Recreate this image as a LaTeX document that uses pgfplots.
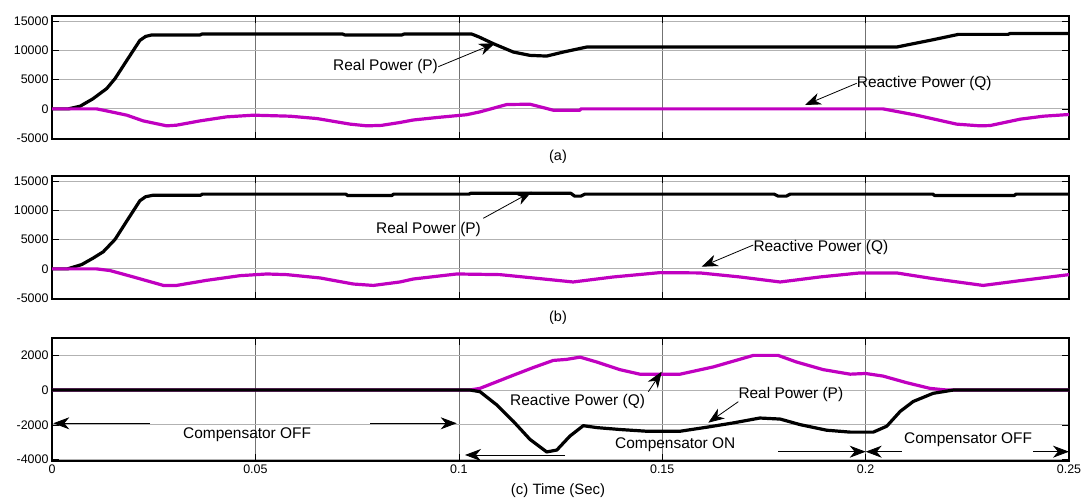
\documentclass[border=0pt]{standalone}
\usepackage{fontspec}
\setmainfont{Liberation Sans}
\usepackage{pgfplots}
\pgfplotsset{compat=1.18}
\usetikzlibrary{arrows.meta}
\definecolor{magq}{RGB}{192,0,192}
\pgfplotsset{
  panel/.style={
    scale only axis, width=1017bp, height=123bp, anchor=south west,
    xmin=0, xmax=0.25, xtick={0,0.05,0.1,0.15,0.2,0.25},
    grid=major, x grid style={black!55,line width=0.5bp}, y grid style={black!30,line width=0.8bp},
    tick align=inside, xtick pos=both, ytick pos=both, major tick length=7bp,
    axis line style={black, line width=1.2bp},
    tick style={black, line width=0.6bp},
    tick label style={font=\fontsize{12.5}{14}\selectfont},
    /pgf/number format/assume math mode=true,
    /pgf/number format/.cd, fixed, 1000 sep={}, precision=2, /pgfplots/.cd,
    scaled y ticks=false, scaled x ticks=false,
  },
  pline/.style={black, line width=3.2bp, line join=round},
  qline/.style={magq, line width=3.2bp, line join=round},
}
\tikzset{ann/.style={font=\fontsize{15.5}{17}\selectfont, inner sep=0pt, anchor=west},
  arr/.style={line width=0.8bp, -{Stealth[length=16bp,width=12bp,inset=5bp]}}}
\begin{document}
\begin{tikzpicture}[x=1bp,y=1bp]
\useasboundingbox (0,0) rectangle (1088,502);
% ---------- (a)
\begin{axis}[panel, at={(52bp,363bp)}, ymin=-5150, ymax=15900,
  ytick={-5000,0,5000,10000,15000}, xticklabels={}]
\addplot[pline] coordinates {(0,0)(0.004,0)(0.0069,460)(0.0100,1700)(0.01345,3480)(0.0155,5190)(0.0184,8310)(0.0216,11720)(0.0230,12400)(0.0245,12650)(0.0364,12650)(0.0368,12800)(0.0715,12800)(0.0720,12650)(0.0860,12650)(0.0865,12800)(0.1032,12800)(0.1050,12300)(0.1085,11160)(0.1134,9730)(0.1175,9160)(0.1216,9040)(0.1257,9730)(0.1314,10580)(0.2076,10580)(0.2166,11840)(0.2228,12750)(0.2350,12750)(0.2355,12900)(0.25,12900)};
\addplot[qline] coordinates {(0,0)(0.011,0)(0.0126,-220)(0.0184,-1075)(0.0224,-2050)(0.0282,-2900)(0.0306,-2790)(0.0364,-2050)(0.0429,-1365)(0.0495,-1075)(0.0585,-1250)(0.0651,-1650)(0.0733,-2610)(0.0774,-2900)(0.0810,-2820)(0.0855,-2330)(0.0888,-1900)(0.0950,-1450)(0.1019,-1000)(0.1052,-510)(0.1118,750)(0.1175,800)(0.1232,-220)(0.1298,-220)(0.1300,0)(0.2043,0)(0.2125,-1075)(0.2224,-2610)(0.2281,-2900)(0.2306,-2850)(0.2380,-1760)(0.2437,-1250)(0.25,-960)};
\end{axis}
% ---------- (b)
\begin{axis}[panel, at={(52bp,203bp)}, ymin=-5150, ymax=15900,
  ytick={-5000,0,5000,10000,15000}, xticklabels={}]
\addplot[pline] coordinates {(0,0)(0.0038,0)(0.0073,740)(0.0100,1800)(0.0126,2930)(0.0155,5050)(0.0184,8210)(0.0216,11660)(0.0230,12350)(0.0248,12600)(0.0365,12600)(0.0370,12800)(0.0722,12800)(0.0727,12550)(0.0835,12550)(0.0840,12800)(0.1025,12800)(0.1030,12950)(0.1275,12950)(0.1285,12450)(0.1300,12450)(0.1310,12800)(0.1775,12800)(0.1785,12450)(0.1805,12450)(0.1815,12800)(0.2165,12800)(0.2170,12550)(0.2365,12550)(0.2370,12800)(0.25,12800)};
\addplot[qline] coordinates {(0,0)(0.011,0)(0.0143,-290)(0.0200,-1380)(0.0274,-2830)(0.0306,-2830)(0.0380,-1960)(0.0462,-1160)(0.0528,-870)(0.0577,-980)(0.0659,-1550)(0.0741,-2590)(0.0790,-2830)(0.0855,-2240)(0.0888,-1730)(0.0995,-870)(0.1101,-980)(0.1200,-1670)(0.1281,-2240)(0.1380,-1380)(0.1494,-640)(0.1593,-690)(0.1691,-1380)(0.1790,-2240)(0.1888,-1380)(0.1986,-690)(0.2076,-690)(0.2166,-1670)(0.2289,-2830)(0.2380,-2010)(0.25,-980)};
\end{axis}
% ---------- (c)
\begin{axis}[panel, at={(52bp,41bp)}, ymin=-4080, ymax=2990,
  ytick={-4000,-2000,0,2000}]
\addplot[qline] coordinates {(0,0)(0.1027,0)(0.1052,95)(0.1134,850)(0.1183,1290)(0.1232,1700)(0.1265,1760)(0.1298,1890)(0.1339,1610)(0.1396,1170)(0.1445,910)(0.1544,910)(0.1626,1330)(0.1724,1990)(0.1785,1990)(0.1830,1610)(0.1896,1170)(0.1962,910)(0.2000,950)(0.2043,800)(0.2101,420)(0.2158,95)(0.2199,0)(0.25,0)};
\addplot[pline] coordinates {(0,0)(0.1027,0)(0.1052,-95)(0.1093,-850)(0.1134,-1800)(0.1175,-2840)(0.1216,-3560)(0.1241,-3450)(0.1273,-2650)(0.1306,-2050)(0.1339,-2160)(0.1396,-2270)(0.1462,-2370)(0.1544,-2370)(0.1609,-2140)(0.1675,-1890)(0.1740,-1610)(0.1790,-1670)(0.1839,-1990)(0.1904,-2310)(0.1962,-2420)(0.2019,-2420)(0.2052,-2080)(0.2085,-1230)(0.2117,-660)(0.2166,-190)(0.2216,0)(0.25,0)};
\end{axis}
% ---------- annotations
\node[ann] at (333,435) {Real Power (P)};
\draw[arr] (438.3,435.3) -- (495,458.7);
\node[ann] at (856.7,418.7) {Reactive Power (Q)};
\draw[arr] (856.7,418.7) -- (805,397);
\node[ann] at (376,272) {Real Power (P)};
\draw[arr] (483.3,283.7) -- (531.7,310.3);
\node[ann] at (753.3,254.3) {Reactive Power (Q)};
\draw[arr] (753.3,257) -- (701.7,235.3);
\node[ann] at (510,100.3) {Reactive Power (Q)};
\draw[arr] (648.3,110.3) -- (661.7,130.3);
\node[ann] at (738.3,107) {Real Power (P)};
\draw[arr] (738.3,100.3) -- (708.3,79.3);
\node[ann] at (183,67) {Compensator OFF};
\draw[arr] (150,78.7) -- (53.3,78.7);
\draw[arr] (370,78.7) -- (456.7,78.7);
\node[ann] at (615,57) {Compensator ON};
\draw[arr] (565,47) -- (465,47);
\draw[arr] (778.3,50.3) -- (865.7,50.3);
\node[ann] at (904,62) {Compensator OFF};
\draw[arr] (901.7,50.3) -- (865.7,50.3);
\draw[arr] (1033.3,50.3) -- (1069,50.3);
\node[font=\fontsize{14.5}{16}\selectfont] at (558,345) {(a)};
\node[font=\fontsize{14.5}{16}\selectfont] at (558,184) {(b)};
\node[font=\fontsize{15}{17}\selectfont] at (558,11) {(c) Time (Sec)};
\end{tikzpicture}
\end{document}
